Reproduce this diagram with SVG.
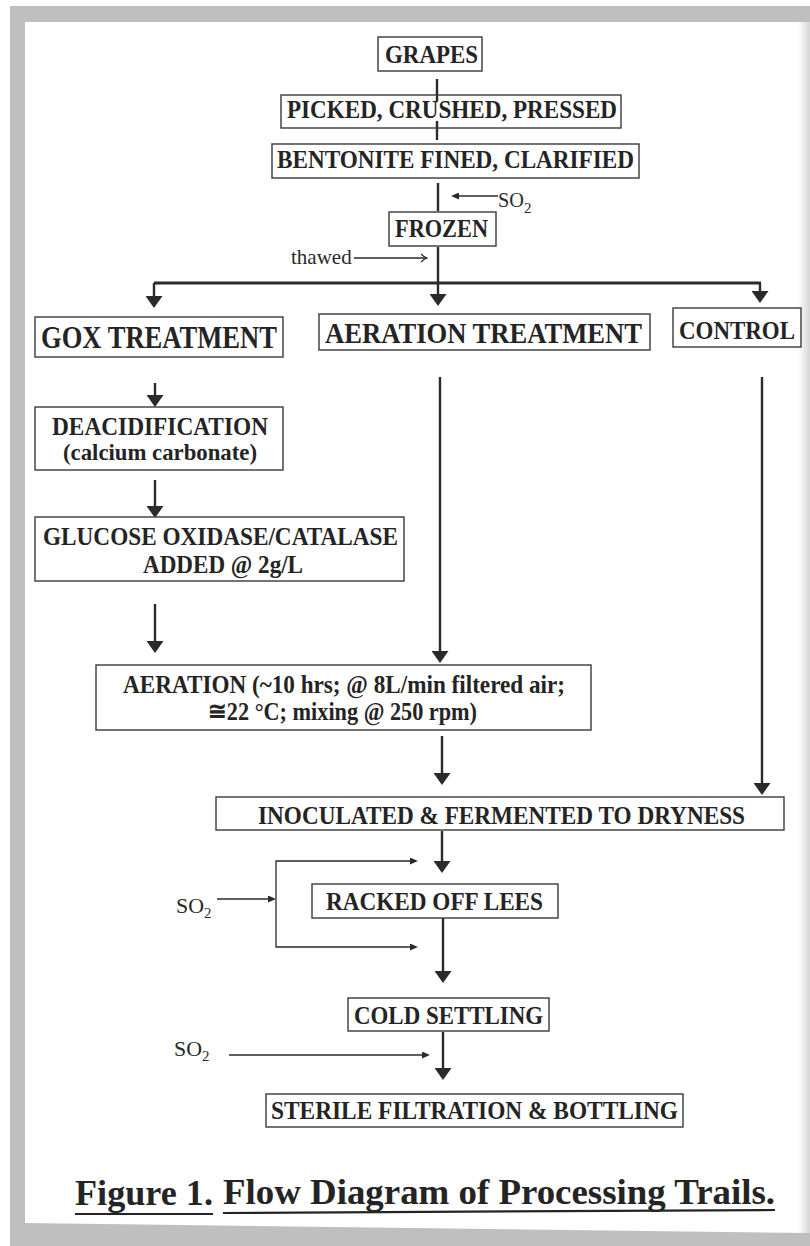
<svg xmlns="http://www.w3.org/2000/svg" width="810" height="1246" viewBox="0 0 810 1246">
  <defs>
    <linearGradient id="edge" x1="0" y1="0" x2="1" y2="0">
      <stop offset="0" stop-color="#ffffff"/>
      <stop offset="1" stop-color="#d6d6d6"/>
    </linearGradient>
    <marker id="big" viewBox="0 0 12 17" refX="4" refY="8.5" markerWidth="12" markerHeight="17" markerUnits="userSpaceOnUse" orient="auto">
      <path d="M0,0 L12,8.5 L0,17 Z" fill="#2a2a2a"/>
    </marker>
    <marker id="small" viewBox="0 0 8 7" refX="3" refY="3.5" markerWidth="8" markerHeight="7" markerUnits="userSpaceOnUse" orient="auto">
      <path d="M0,0 L8,3.5 L0,7 Z" fill="#2a2a2a"/>
    </marker>
    <marker id="open" viewBox="0 0 8 10" refX="7" refY="5" markerWidth="8" markerHeight="10" markerUnits="userSpaceOnUse" orient="auto">
      <path d="M1,1 Q4,4 7,5 Q4,6 1,9" fill="none" stroke="#2a2a2a" stroke-width="1.2"/>
    </marker>
    <style>
      .box { fill: #ffffff; stroke: #3a3a3a; stroke-width: 1.4; }
      .t { font-family: "Liberation Serif", "DejaVu Serif", serif; font-weight: bold; fill: #242424; }
      .r { font-family: "Liberation Serif", "DejaVu Serif", serif; font-weight: normal; fill: #2a2a2a; }
      .main { stroke: #2a2a2a; stroke-width: 2.4; fill: none; }
      .thick { stroke: #2a2a2a; stroke-width: 3; fill: none; }
      .thin { stroke: #2a2a2a; stroke-width: 1.3; fill: none; }
    </style>
  </defs>

  <!-- page frame -->
  <rect x="0" y="0" width="810" height="1246" fill="#ffffff"/>
  <rect x="10" y="6" width="800" height="1240" fill="#bfbfbf"/>
  <polygon points="25,22 810,22 810,1233 25,1223" fill="#ffffff"/>
  <rect x="798" y="22" width="12" height="1211" fill="url(#edge)"/>

  <g id="connectors">
    <line class="main" x1="437" y1="79" x2="437" y2="101"/>
    <line class="main" x1="437" y1="121" x2="437" y2="140"/>
    <line class="main" x1="438" y1="183" x2="438" y2="211"/>
    <line class="main" x1="438" y1="247" x2="438" y2="298" marker-end="url(#big)"/>
    <line class="thick" x1="154" y1="283" x2="761" y2="283"/>
    <line class="main" x1="154" y1="283" x2="154" y2="300" marker-end="url(#big)"/>
    <line class="main" x1="760" y1="283" x2="760" y2="295" marker-end="url(#big)"/>
    <line class="thin" x1="498" y1="196" x2="456" y2="196" marker-end="url(#small)"/>
    <line class="thin" x1="354" y1="258" x2="427" y2="258" marker-end="url(#open)"/>
    <line class="main" x1="155" y1="383" x2="155" y2="399" marker-end="url(#big)"/>
    <line class="main" x1="155" y1="480" x2="155" y2="510" marker-end="url(#big)"/>
    <line class="main" x1="155" y1="604" x2="155" y2="645" marker-end="url(#big)"/>
    <line class="main" x1="440" y1="377" x2="440" y2="655" marker-end="url(#big)"/>
    <line class="main" x1="762" y1="377" x2="762" y2="787" marker-end="url(#big)"/>
    <line class="main" x1="442" y1="736" x2="442" y2="777" marker-end="url(#big)"/>
    <line class="main" x1="442" y1="831" x2="442" y2="865" marker-end="url(#big)"/>
    <line class="thin" x1="217" y1="899" x2="271" y2="899" marker-end="url(#small)"/>
    <path class="thin" d="M276,899 V861 H413" marker-end="url(#small)"/>
    <path class="thin" d="M276,899 V947 H413" marker-end="url(#small)"/>
    <line class="main" x1="443" y1="918" x2="443" y2="975" marker-end="url(#big)"/>
    <line class="main" x1="443" y1="1032" x2="443" y2="1072" marker-end="url(#big)"/>
    <line class="thin" x1="229" y1="1055" x2="425" y2="1055" marker-end="url(#small)"/>
  </g>

  <g id="grapes">
    <rect class="box" x="378" y="37" width="104" height="34"/>
    <text class="t" x="385" y="63" font-size="26" textLength="93" lengthAdjust="spacingAndGlyphs">GRAPES</text>
  </g>
  <g id="picked">
    <rect class="box" x="281" y="95" width="340" height="33" fill-opacity="0"/>
    <text class="t" x="287" y="118" font-size="26" textLength="330" lengthAdjust="spacingAndGlyphs">PICKED, CRUSHED, PRESSED</text>
  </g>
  <g id="bentonite">
    <rect class="box" x="272" y="144" width="367" height="34"/>
    <text class="t" x="277" y="168" font-size="26" textLength="357" lengthAdjust="spacingAndGlyphs">BENTONITE FINED, CLARIFIED</text>
  </g>
  <g id="so2-top">
    <text class="r" x="498" y="207" font-size="21" textLength="26" lengthAdjust="spacingAndGlyphs">SO</text>
    <text class="r" x="524" y="213" font-size="15">2</text>
  </g>
  <g id="frozen">
    <rect class="box" x="389" y="212" width="107" height="34"/>
    <text class="t" x="395" y="237" font-size="26" textLength="93" lengthAdjust="spacingAndGlyphs">FROZEN</text>
  </g>
  <g id="thawed">
    <text class="r" x="291" y="264" font-size="21">thawed</text>
  </g>
  <g id="gox">
    <rect class="box" x="35" y="317" width="248" height="40"/>
    <text class="t" x="41" y="348" font-size="31" textLength="236" lengthAdjust="spacingAndGlyphs">GOX TREATMENT</text>
  </g>
  <g id="aeration-treatment">
    <rect class="box" x="319" y="314" width="331" height="36"/>
    <text class="t" x="325" y="343" font-size="30" textLength="317" lengthAdjust="spacingAndGlyphs">AERATION TREATMENT</text>
  </g>
  <g id="control">
    <rect class="box" x="673" y="308" width="128" height="39"/>
    <text class="t" x="679" y="339" font-size="25" textLength="116" lengthAdjust="spacingAndGlyphs">CONTROL</text>
  </g>
  <g id="deacidification">
    <rect class="box" x="35" y="407" width="248" height="63"/>
    <text class="t" x="52" y="435" font-size="26" textLength="216" lengthAdjust="spacingAndGlyphs">DEACIDIFICATION</text>
    <text class="t" x="63" y="460" font-size="24" textLength="194" lengthAdjust="spacingAndGlyphs">(calcium carbonate)</text>
  </g>
  <g id="glucose">
    <rect class="box" x="35" y="517" width="369" height="64"/>
    <text class="t" x="43" y="545" font-size="26" textLength="355" lengthAdjust="spacingAndGlyphs">GLUCOSE OXIDASE/CATALASE</text>
    <text class="t" x="143" y="573" font-size="26" textLength="160" lengthAdjust="spacingAndGlyphs">ADDED @ 2g/L</text>
  </g>
  <g id="aeration">
    <rect class="box" x="96" y="665" width="495" height="65"/>
    <text class="t" x="123" y="693" font-size="26" textLength="442" lengthAdjust="spacingAndGlyphs">AERATION (~10 hrs; @ 8L/min filtered air;</text>
    <text class="t" x="208" y="720" font-size="26" textLength="269" lengthAdjust="spacingAndGlyphs">≅22 °C; mixing @ 250 rpm)</text>
  </g>
  <g id="inoculated">
    <rect class="box" x="216" y="797" width="568" height="33"/>
    <text class="t" x="258" y="824" font-size="26" textLength="487" lengthAdjust="spacingAndGlyphs">INOCULATED &amp; FERMENTED TO DRYNESS</text>
  </g>
  <g id="so2-racked">
    <text class="r" x="176" y="913" font-size="21" textLength="28" lengthAdjust="spacingAndGlyphs">SO</text>
    <text class="r" x="204" y="918" font-size="15">2</text>
  </g>
  <g id="racked">
    <rect class="box" x="312" y="884" width="246" height="34"/>
    <text class="t" x="326" y="910" font-size="26" textLength="217" lengthAdjust="spacingAndGlyphs">RACKED OFF LEES</text>
  </g>
  <g id="cold">
    <rect class="box" x="348" y="998" width="201" height="33"/>
    <text class="t" x="354" y="1024" font-size="26" textLength="189" lengthAdjust="spacingAndGlyphs">COLD SETTLING</text>
  </g>
  <g id="so2-cold">
    <text class="r" x="174" y="1056" font-size="21" textLength="28" lengthAdjust="spacingAndGlyphs">SO</text>
    <text class="r" x="202" y="1061" font-size="15">2</text>
  </g>
  <g id="sterile">
    <rect class="box" x="266" y="1094" width="417" height="33"/>
    <text class="t" x="271" y="1119" font-size="26" textLength="407" lengthAdjust="spacingAndGlyphs">STERILE FILTRATION &amp; BOTTLING</text>
  </g>
  <g id="caption">
    <text class="t" x="75" y="1205" font-size="35" textLength="138" lengthAdjust="spacingAndGlyphs">Figure 1.</text>
    <text class="t" x="223" y="1204" font-size="35" textLength="552" lengthAdjust="spacingAndGlyphs">Flow Diagram of Processing Trails.</text>
    <line x1="75" y1="1214" x2="213" y2="1214" stroke="#242424" stroke-width="2.2"/>
    <line x1="223" y1="1213" x2="775" y2="1210" stroke="#242424" stroke-width="2.2"/>
  </g>
</svg>
